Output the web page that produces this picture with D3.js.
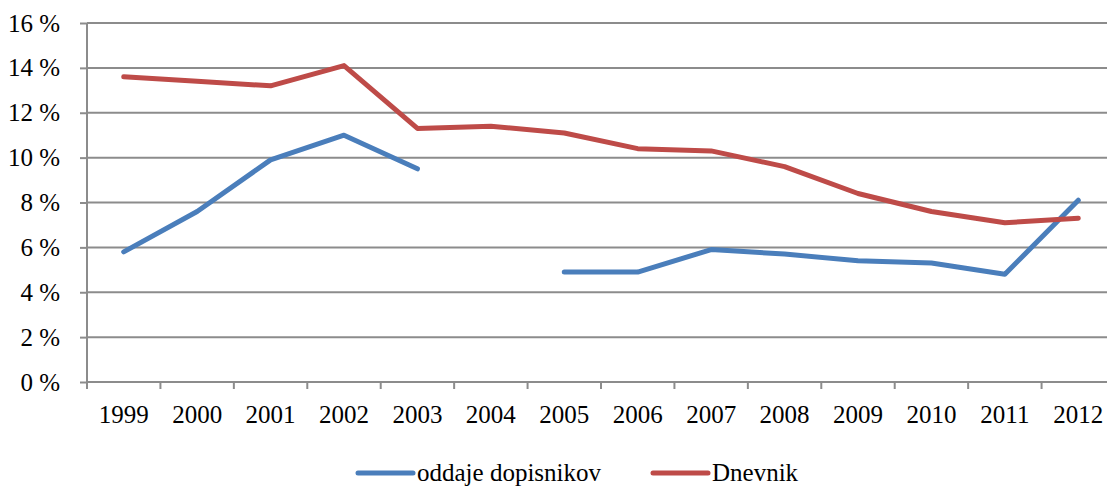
<!DOCTYPE html>
<html>
<head>
<meta charset="utf-8">
<script src="https://cdn.jsdelivr.net/npm/d3@7"></script>
</head>
<body style="margin:0; background:#fff">
<div id="graph_draw"></div>
<script>
// data
var years = ["1999","2000","2001","2002","2003","2004","2005","2006","2007","2008","2009","2010","2011","2012"];
var dopisniki = [5.8, 7.6, 9.9, 11.0, 9.5, null, 4.9, 4.9, 5.9, 5.7, 5.4, 5.3, 4.8, 8.1];
var dnevnik = [13.6, 13.4, 13.2, 14.1, 11.3, 11.4, 11.1, 10.4, 10.3, 9.6, 8.4, 7.6, 7.1, 7.3];
var yTicks = [0, 2, 4, 6, 8, 10, 12, 14, 16];
var seriesNames = ["oddaje dopisnikov", "Dnevnik"];
var seriesColors = ["#4a7ebb", "#be4b48"];

var FONT = "'Liberation Serif'";
var FS = 25;
var margin = {top: 23, left: 87},
    width = 1028,
    height = 359;

var svg = d3.select("#graph_draw").append("svg")
    .attr("width", 1107)
    .attr("height", 486)
    .style("font-family", FONT);

var g = svg.append("g")
    .attr("transform", "translate(" + margin.left + "," + margin.top + ")");

var x = d3.scaleBand().domain(years).range([0, width]).padding(0);
var y = d3.scaleLinear().domain([0, 16]).range([height, 0]);
var bw = x.bandwidth();

// gridlines
g.append("g").selectAll("line")
    .data(yTicks.slice(1))
    .enter().append("line")
    .attr("x1", 0).attr("x2", width)
    .attr("y1", function(d) { return y(d); })
    .attr("y2", function(d) { return y(d); })
    .attr("stroke", "#8c8c8c")
    .attr("stroke-width", 2);

// y axis
var yAxis = g.append("g")
    .call(d3.axisLeft(y).tickValues(yTicks).tickSize(7).tickPadding(20)
        .tickFormat(function(d) { return d + " %"; }));
yAxis.style("font-family", FONT).attr("font-size", FS);
yAxis.selectAll("text").attr("fill", "#000");
yAxis.selectAll("line").attr("stroke", "#8c8c8c").attr("stroke-width", 2);
yAxis.select(".domain").attr("stroke", "#8c8c8c").attr("stroke-width", 2)
    .attr("d", "M0," + height + "V0");

// x axis, ticks sit between categories
var xAxis = g.append("g")
    .attr("transform", "translate(0," + height + ")")
    .call(d3.axisBottom(x).tickSize(7).tickPadding(16));
xAxis.style("font-family", FONT).attr("font-size", FS);
xAxis.selectAll("text").attr("fill", "#000");
xAxis.selectAll(".tick line")
    .attr("x1", -bw / 2).attr("x2", -bw / 2)
    .attr("stroke", "#8c8c8c").attr("stroke-width", 2);
xAxis.select(".domain").attr("stroke", "#8c8c8c").attr("stroke-width", 2)
    .attr("d", "M0,0H" + width);

// lines
var valueline = d3.line()
    .defined(function(d) { return d.v != null; })
    .x(function(d) { return x(d.year) + bw / 2; })
    .y(function(d) { return y(d.v); });

[dopisniki, dnevnik].forEach(function(vals, i) {
    var data = years.map(function(yr, j) { return {year: yr, v: vals[j]}; });
    g.append("path")
        .datum(data)
        .attr("fill", "none")
        .attr("stroke", seriesColors[i])
        .attr("stroke-width", 5)
        .attr("stroke-linecap", "round")
        .attr("stroke-linejoin", "round")
        .attr("d", valueline);
});

// legend
var legendX = [358, 653];
var legend = svg.append("g");
seriesNames.forEach(function(name, i) {
    legend.append("line")
        .attr("x1", legendX[i]).attr("x2", legendX[i] + 55)
        .attr("y1", 473).attr("y2", 473)
        .attr("stroke", seriesColors[i])
        .attr("stroke-width", 5)
        .attr("stroke-linecap", "round");
    legend.append("text")
        .attr("x", legendX[i] + 59)
        .attr("y", 481)
        .attr("font-size", FS)
        .attr("fill", "#000")
        .style("font-family", FONT)
        .text(name);
});
</script>
</body>
</html>
